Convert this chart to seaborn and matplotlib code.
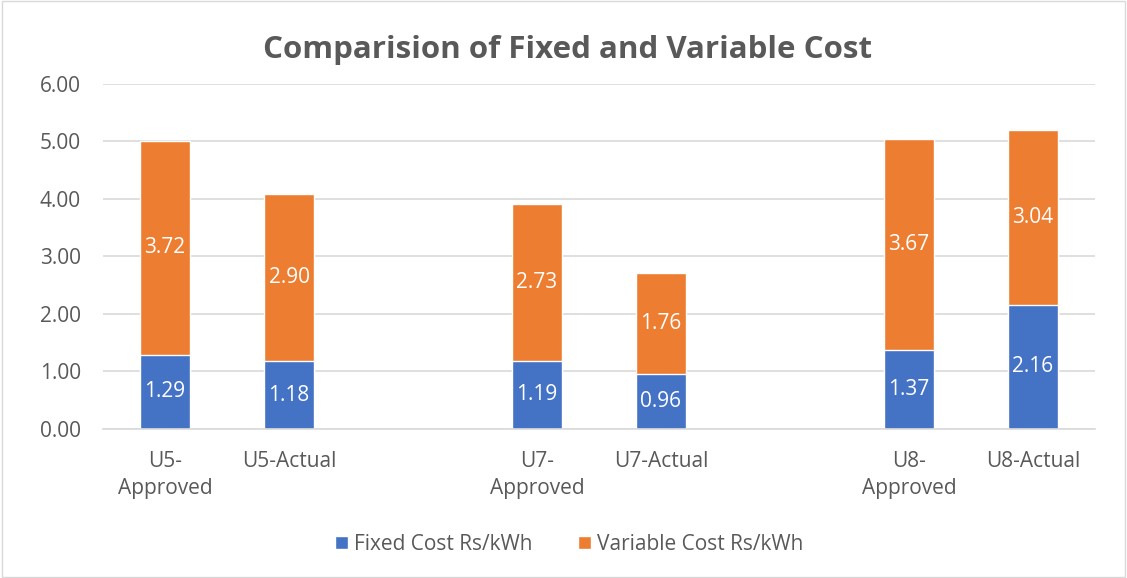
import numpy as np
import pandas as pd
import seaborn as sns
import matplotlib.pyplot as plt

# categories (blank slots separate the unit groups)
categories = ['U5-\nApproved', 'U5-Actual', ' ', 'U7-\nApproved', 'U7-Actual', '  ',
              'U8-\nApproved', 'U8-Actual']
fixed_cost = [1.29, 1.18, np.nan, 1.19, 0.96, np.nan, 1.37, 2.16]
variable_cost = [3.72, 2.90, np.nan, 2.73, 1.76, np.nan, 3.67, 3.04]

BLUE = '#4472C4'
ORANGE = '#ED7D31'
GREY = '#595959'

df = pd.DataFrame({'Category': categories,
                   'Fixed': fixed_cost,
                   'Variable': variable_cost})
df['Total'] = df['Fixed'] + df['Variable']

sns.set_style('white')
plt.rcParams['font.family'] = ['Open Sans', 'DejaVu Sans']

fig = plt.figure(figsize=(11.27, 5.78), dpi=100)
ax = fig.add_axes([0.0914, 0.2578, 0.8802, 0.5969])

sns.barplot(data=df, x='Category', y='Total', order=categories, color=ORANGE,
            width=0.4, saturation=1, ax=ax, label='Variable Cost Rs/kWh')
sns.barplot(data=df, x='Category', y='Fixed', order=categories, color=BLUE,
            width=0.4, saturation=1, ax=ax, label='Fixed Cost Rs/kWh')

# value labels
for i, (f, v) in enumerate(zip(fixed_cost, variable_cost)):
    if np.isnan(f):
        continue
    ax.text(i, f / 2, f'{f:.2f}', ha='center', va='center', color='white', fontsize=15)
    ax.text(i, f + v / 2, f'{v:.2f}', ha='center', va='center', color='white', fontsize=15)

ax.set_ylim(0, 6)
ax.set_yticks(np.arange(0, 7, 1))
ax.set_yticklabels([f'{t:.2f}' for t in np.arange(0, 7, 1)])
ax.yaxis.grid(True, color='#D9D9D9', linewidth=1.2)
ax.set_axisbelow(True)
ax.tick_params(axis='both', colors=GREY, labelsize=15, length=0)
ax.tick_params(axis='y', pad=16)
ax.tick_params(axis='x', pad=16)
for lbl in ax.get_xticklabels():
    lbl.set_linespacing(1.35)
ax.set_xlabel('')
ax.set_ylabel('')
for s in ['top', 'right', 'left']:
    ax.spines[s].set_visible(False)
ax.spines['bottom'].set_color('#D9D9D9')
ax.spines['bottom'].set_linewidth(1.2)

handles, labels = ax.get_legend_handles_labels()
order_idx = [labels.index('Fixed Cost Rs/kWh'), labels.index('Variable Cost Rs/kWh')]
leg = ax.legend([handles[k] for k in order_idx], [labels[k] for k in order_idx],
                loc='center', bbox_to_anchor=(0.47, -0.335), ncol=2, frameon=False,
                fontsize=15, handlelength=0.6, handleheight=0.6, columnspacing=2.2,
                handletextpad=0.3)
for t in leg.get_texts():
    t.set_color(GREY)

fig.suptitle('Comparision of Fixed and Variable Cost', x=0.504, y=0.94,
             fontsize=22.5, fontweight='bold', color=GREY)

border = plt.Rectangle((0.002, 0.002), 0.996, 0.996, transform=fig.transFigure,
                       fill=False, edgecolor='#D9D9D9', linewidth=1)
fig.patches.append(border)

fig.savefig('out.png', dpi=100)
